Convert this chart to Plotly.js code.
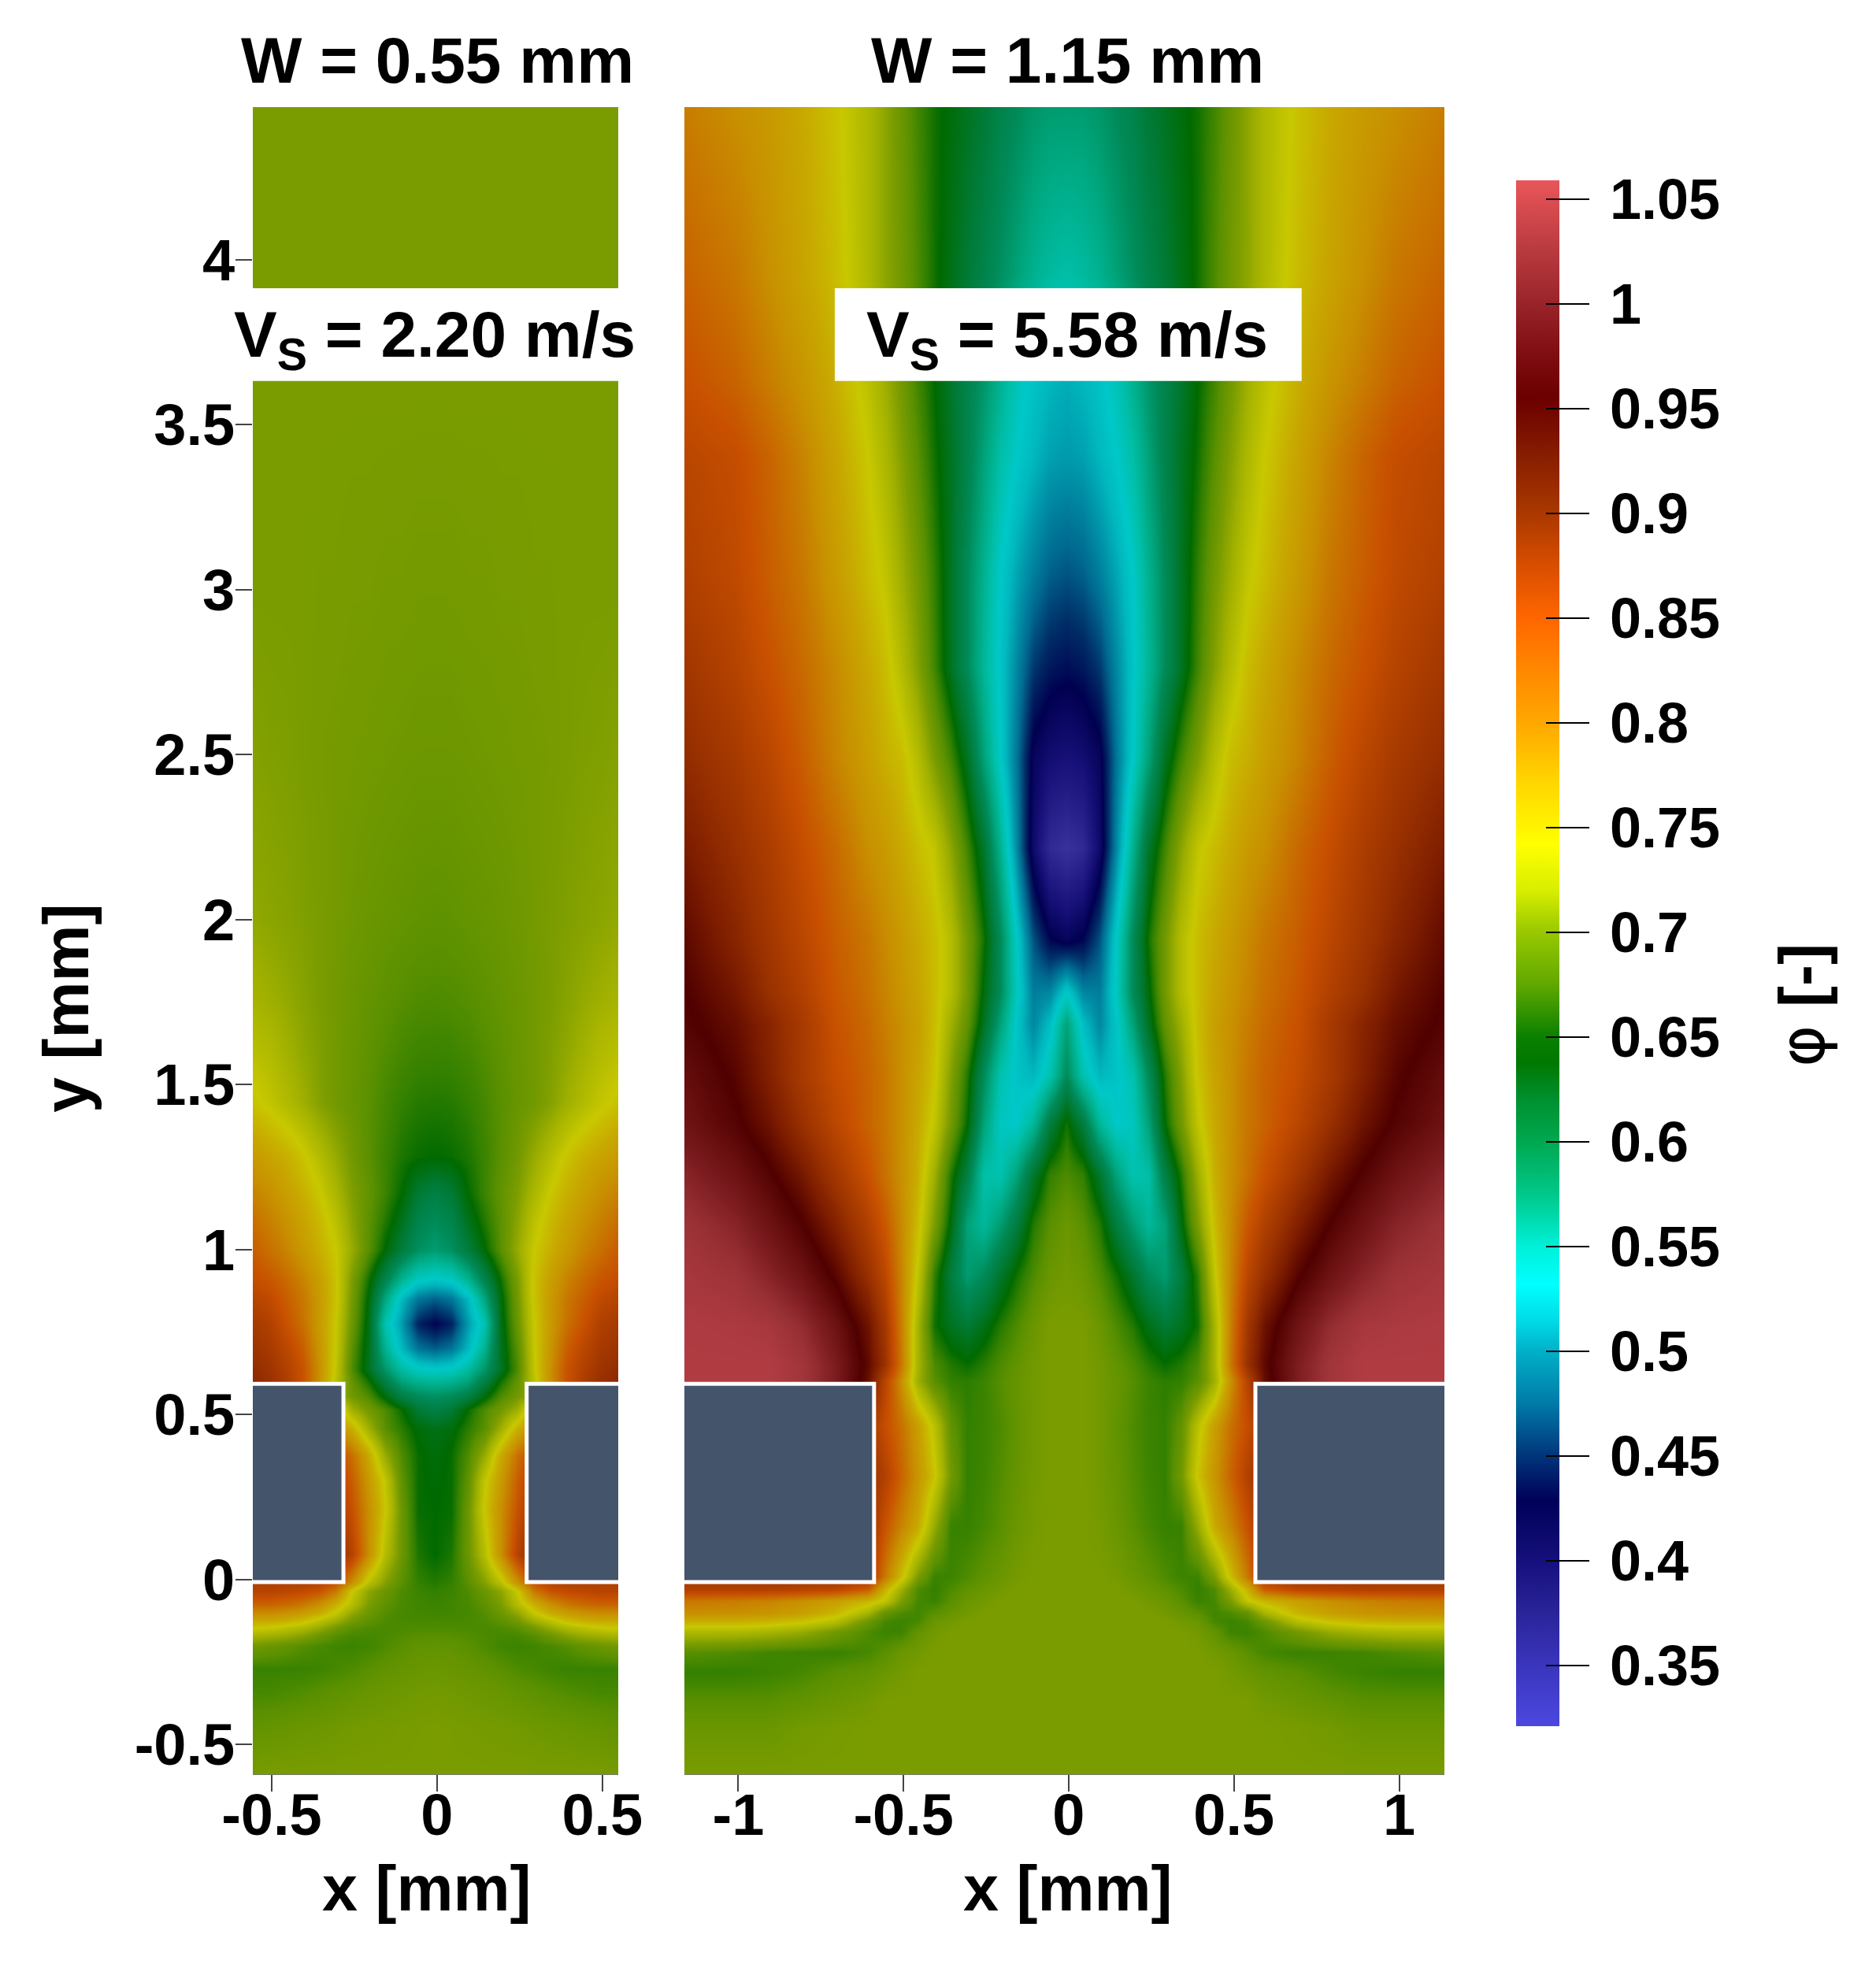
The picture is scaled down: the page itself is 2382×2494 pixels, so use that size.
<!DOCTYPE html>
<html>
<head>
    <script src="https://cdn.plot.ly/plotly-3.0.1.min.js"></script>
    <style>body { margin: 0; background: #fff; }</style>
</head>
<body>
    <div id="myDiv"></div>
    <script>
        var figW = 2382, figH = 2494;
        var fontName = '"Liberation Sans", Arial, sans-serif';

        // phi colour range of the legend
        var phiMin = 0.321, phiMax = 1.059;

        // legend bar colours
        var barLevels = [0.321, 0.35, 0.375, 0.4, 0.4286, 0.45, 0.475, 0.5, 0.515, 0.532, 0.55, 0.575, 0.6, 0.62, 0.638, 0.65, 0.675, 0.7, 0.72, 0.742, 0.77, 0.8, 0.825, 0.85, 0.875, 0.9, 0.925, 0.955, 0.975, 1.0, 1.025, 1.05, 1.059];
        var barColors = ['#4c48e0', '#3a35bc', '#2a249a', '#15107c', '#000058', '#00357a', '#007aa8', '#00b0c8', '#00dce8', '#00ffff', '#00f0d8', '#00c88a', '#00a850', '#009030', '#007800', '#0a8000', '#60a800', '#98c800', '#d8ee00', '#ffff00', '#ffd800', '#ffa800', '#ff8800', '#ff6600', '#d84e00', '#aa3800', '#8a2000', '#6b0000', '#7e0c10', '#98242a', '#b83a3e', '#dc4e52', '#e8565a'];

        // field colours, the lit surface is darker than the legend
        var fieldLevels = [0.321, 0.355, 0.4, 0.4286, 0.45, 0.475, 0.5, 0.515, 0.53, 0.55, 0.575, 0.6, 0.625, 0.65, 0.665, 0.68, 0.7, 0.72, 0.75, 0.775, 0.8, 0.825, 0.85, 0.875, 0.9, 0.925, 0.955, 0.98, 1.0, 1.025, 1.05, 1.059];
        var fieldColors = ['#4038b0', '#38309c', '#161078', '#000050', '#002c66', '#006a90', '#009aac', '#00b8be', '#00c8c8', '#00bfa8', '#00a880', '#008a58', '#007a36', '#006a00', '#338000', '#5a9000', '#7a9c00', '#a0b000', '#c8c800', '#c8a800', '#c89000', '#c87000', '#c85000', '#b04000', '#983000', '#7c1c00', '#500000', '#6a1010', '#7c1c20', '#983034', '#b03c42', '#c04448'];

        // W = 0.55 mm, half profiles (distance from the mid line)
        var leftCentre = -0.007;
        var leftDist = [0, 0.05, 0.1, 0.15, 0.2, 0.25, 0.3, 0.35, 0.4, 0.45, 0.5, 0.55];
        var leftY = [4.46, 3.6, 3.0, 2.5, 2.0, 1.75, 1.6, 1.445, 1.28, 1.17, 1.09, 1.0, 0.91, 0.85, 0.774, 0.7, 0.637, 0.6, 0.555, 0.514, 0.458, 0.376, 0.3, 0.212, 0.075, -0.007, -0.035, -0.075, -0.103, -0.125, -0.145, -0.17, -0.2, -0.27, -0.336, -0.45, -0.6];
        var leftPhi = [
            [0.70, 0.70, 0.70, 0.70, 0.70, 0.70, 0.70, 0.70, 0.70, 0.70, 0.70, 0.70],
            [0.70, 0.70, 0.70, 0.70, 0.70, 0.70, 0.70, 0.70, 0.70, 0.70, 0.70, 0.70],
            [0.696, 0.696, 0.697, 0.697, 0.698, 0.698, 0.699, 0.699, 0.70, 0.70, 0.70, 0.70],
            [0.692, 0.692, 0.693, 0.694, 0.695, 0.696, 0.697, 0.698, 0.70, 0.702, 0.703, 0.705],
            [0.683, 0.684, 0.686, 0.688, 0.69, 0.693, 0.696, 0.70, 0.703, 0.706, 0.709, 0.712],
            [0.675, 0.676, 0.678, 0.682, 0.686, 0.69, 0.695, 0.70, 0.707, 0.714, 0.72, 0.725],
            [0.668, 0.669, 0.672, 0.677, 0.683, 0.689, 0.695, 0.703, 0.712, 0.722, 0.733, 0.738],
            [0.66, 0.661, 0.665, 0.672, 0.68, 0.688, 0.695, 0.705, 0.72, 0.733, 0.745, 0.755],
            [0.65, 0.652, 0.658, 0.668, 0.68, 0.695, 0.715, 0.735, 0.755, 0.77, 0.78, 0.79],
            [0.615, 0.625, 0.65, 0.668, 0.685, 0.702, 0.728, 0.752, 0.77, 0.785, 0.80, 0.81],
            [0.60, 0.61, 0.638, 0.66, 0.682, 0.708, 0.74, 0.762, 0.78, 0.797, 0.812, 0.825],
            [0.585, 0.595, 0.62, 0.648, 0.68, 0.715, 0.75, 0.77, 0.79, 0.81, 0.825, 0.84],
            [0.528, 0.535, 0.565, 0.61, 0.655, 0.70, 0.755, 0.785, 0.81, 0.83, 0.845, 0.855],
            [0.47, 0.48, 0.515, 0.575, 0.645, 0.695, 0.755, 0.79, 0.82, 0.84, 0.86, 0.87],
            [0.43, 0.445, 0.50, 0.545, 0.64, 0.69, 0.75, 0.79, 0.825, 0.85, 0.875, 0.885],
            [0.47, 0.48, 0.515, 0.565, 0.637, 0.68, 0.748, 0.795, 0.84, 0.865, 0.885, 0.895],
            [0.53, 0.535, 0.555, 0.59, 0.635, 0.675, 0.745, 0.80, 0.85, 0.875, 0.895, 0.905],
            [0.56, 0.565, 0.58, 0.615, 0.655, 0.685, 0.74, 0.80, 0.85, 0.88, 0.90, 0.91],
            [0.595, 0.60, 0.615, 0.645, 0.675, 0.695, 0.72, 0.80, 0.80, 0.80, 0.80, 0.80],
            [0.615, 0.625, 0.652, 0.675, 0.695, 0.72, 0.78, 0.80, 0.80, 0.80, 0.80, 0.80],
            [0.64, 0.645, 0.662, 0.68, 0.72, 0.77, 0.80, 0.80, 0.80, 0.80, 0.80, 0.80],
            [0.645, 0.652, 0.675, 0.715, 0.775, 0.825, 0.86, 0.86, 0.86, 0.86, 0.86, 0.86],
            [0.648, 0.652, 0.683, 0.745, 0.79, 0.84, 0.875, 0.875, 0.875, 0.875, 0.875, 0.875],
            [0.65, 0.652, 0.69, 0.752, 0.80, 0.85, 0.89, 0.89, 0.89, 0.89, 0.89, 0.89],
            [0.65, 0.658, 0.69, 0.735, 0.80, 0.87, 0.91, 0.91, 0.91, 0.91, 0.91, 0.91],
            [0.66, 0.665, 0.68, 0.705, 0.74, 0.80, 0.85, 0.87, 0.875, 0.875, 0.875, 0.875],
            [0.665, 0.668, 0.675, 0.69, 0.71, 0.75, 0.82, 0.85, 0.86, 0.865, 0.87, 0.87],
            [0.668, 0.67, 0.673, 0.682, 0.70, 0.735, 0.77, 0.80, 0.82, 0.83, 0.835, 0.835],
            [0.67, 0.671, 0.672, 0.677, 0.69, 0.71, 0.745, 0.77, 0.785, 0.795, 0.80, 0.80],
            [0.673, 0.673, 0.673, 0.675, 0.682, 0.695, 0.72, 0.74, 0.76, 0.77, 0.775, 0.775],
            [0.675, 0.675, 0.674, 0.673, 0.675, 0.68, 0.695, 0.715, 0.73, 0.74, 0.748, 0.752],
            [0.68, 0.679, 0.677, 0.674, 0.672, 0.672, 0.678, 0.69, 0.705, 0.715, 0.72, 0.725],
            [0.685, 0.684, 0.68, 0.675, 0.67, 0.668, 0.67, 0.673, 0.678, 0.685, 0.69, 0.695],
            [0.69, 0.689, 0.687, 0.684, 0.68, 0.675, 0.672, 0.669, 0.667, 0.667, 0.667, 0.667],
            [0.695, 0.694, 0.692, 0.69, 0.688, 0.685, 0.682, 0.679, 0.676, 0.674, 0.672, 0.672],
            [0.70, 0.699, 0.698, 0.697, 0.696, 0.695, 0.693, 0.691, 0.69, 0.688, 0.687, 0.685],
            [0.70, 0.70, 0.70, 0.70, 0.70, 0.70, 0.70, 0.70, 0.70, 0.70, 0.70, 0.698]
        ];

        // W = 1.15 mm
        var rightCentre = -0.008;
        var rightDist = [0, 0.05, 0.1, 0.15, 0.2, 0.25, 0.3, 0.35, 0.4, 0.45, 0.5, 0.55, 0.6, 0.7, 0.8, 0.9, 1.0, 1.15];
        var rightY = [4.46, 3.95, 3.64, 3.4, 3.04, 2.765, 2.49, 2.217, 1.943, 1.78, 1.684, 1.53, 1.38, 1.227, 1.075, 0.923, 0.77, 0.65, 0.6, 0.466, 0.314, 0.162, 0.01, -0.03, -0.066, -0.1, -0.127, -0.158, -0.22, -0.28, -0.37, -0.45, -0.6];
        var rightPhi = [
            [0.585, 0.585, 0.59, 0.60, 0.61, 0.625, 0.635, 0.645, 0.655, 0.67, 0.69, 0.71, 0.73, 0.755, 0.775, 0.79, 0.80, 0.815],
            [0.55, 0.555, 0.565, 0.58, 0.595, 0.61, 0.625, 0.64, 0.655, 0.675, 0.695, 0.71, 0.73, 0.76, 0.78, 0.80, 0.82, 0.835],
            [0.51, 0.515, 0.525, 0.54, 0.565, 0.59, 0.61, 0.63, 0.65, 0.67, 0.695, 0.72, 0.74, 0.77, 0.795, 0.815, 0.835, 0.85],
            [0.50, 0.503, 0.515, 0.53, 0.55, 0.58, 0.61, 0.635, 0.655, 0.68, 0.705, 0.73, 0.75, 0.78, 0.81, 0.835, 0.855, 0.865],
            [0.465, 0.47, 0.485, 0.505, 0.53, 0.565, 0.60, 0.635, 0.665, 0.695, 0.72, 0.745, 0.76, 0.79, 0.82, 0.84, 0.86, 0.875],
            [0.435, 0.44, 0.455, 0.49, 0.525, 0.56, 0.60, 0.635, 0.67, 0.705, 0.735, 0.76, 0.775, 0.805, 0.83, 0.85, 0.87, 0.89],
            [0.40, 0.405, 0.42, 0.48, 0.53, 0.58, 0.635, 0.67, 0.70, 0.735, 0.76, 0.77, 0.785, 0.81, 0.84, 0.865, 0.885, 0.905],
            [0.355, 0.365, 0.41, 0.49, 0.565, 0.63, 0.67, 0.71, 0.745, 0.76, 0.775, 0.79, 0.80, 0.83, 0.855, 0.88, 0.90, 0.925],
            [0.42, 0.43, 0.465, 0.53, 0.60, 0.655, 0.695, 0.735, 0.76, 0.775, 0.79, 0.805, 0.82, 0.84, 0.865, 0.89, 0.915, 0.945],
            [0.53, 0.49, 0.485, 0.535, 0.60, 0.645, 0.695, 0.735, 0.76, 0.78, 0.795, 0.81, 0.825, 0.845, 0.875, 0.90, 0.93, 0.955],
            [0.58, 0.52, 0.49, 0.525, 0.58, 0.635, 0.685, 0.72, 0.76, 0.785, 0.80, 0.815, 0.83, 0.85, 0.885, 0.915, 0.94, 0.96],
            [0.60, 0.545, 0.515, 0.525, 0.545, 0.60, 0.66, 0.705, 0.755, 0.78, 0.80, 0.82, 0.835, 0.855, 0.885, 0.92, 0.95, 0.975],
            [0.655, 0.62, 0.56, 0.53, 0.535, 0.58, 0.65, 0.695, 0.745, 0.775, 0.80, 0.82, 0.835, 0.865, 0.90, 0.935, 0.96, 0.985],
            [0.675, 0.665, 0.63, 0.58, 0.545, 0.55, 0.615, 0.66, 0.72, 0.77, 0.80, 0.825, 0.85, 0.89, 0.93, 0.96, 0.985, 1.01],
            [0.69, 0.68, 0.66, 0.62, 0.585, 0.558, 0.58, 0.645, 0.70, 0.76, 0.805, 0.845, 0.875, 0.92, 0.957, 0.985, 1.01, 1.03],
            [0.695, 0.69, 0.675, 0.655, 0.63, 0.60, 0.585, 0.62, 0.665, 0.745, 0.81, 0.865, 0.90, 0.95, 0.985, 1.01, 1.03, 1.04],
            [0.70, 0.70, 0.69, 0.675, 0.66, 0.64, 0.625, 0.635, 0.655, 0.725, 0.815, 0.89, 0.935, 0.985, 1.02, 1.04, 1.045, 1.048],
            [0.70, 0.70, 0.695, 0.685, 0.675, 0.662, 0.652, 0.66, 0.675, 0.725, 0.82, 0.90, 0.945, 1.0, 1.035, 1.05, 1.05, 1.05],
            [0.70, 0.70, 0.695, 0.688, 0.678, 0.668, 0.663, 0.665, 0.68, 0.72, 0.80, 0.87, 0.94, 1.0, 1.035, 1.05, 1.05, 1.05],
            [0.70, 0.70, 0.695, 0.685, 0.675, 0.668, 0.665, 0.685, 0.74, 0.785, 0.825, 0.855, 0.89, 0.90, 0.90, 0.90, 0.90, 0.90],
            [0.70, 0.70, 0.695, 0.687, 0.677, 0.669, 0.665, 0.695, 0.755, 0.795, 0.835, 0.875, 0.90, 0.90, 0.90, 0.90, 0.90, 0.90],
            [0.70, 0.70, 0.697, 0.69, 0.68, 0.672, 0.666, 0.667, 0.715, 0.775, 0.81, 0.85, 0.90, 0.90, 0.90, 0.90, 0.90, 0.90],
            [0.70, 0.70, 0.70, 0.697, 0.69, 0.683, 0.675, 0.668, 0.668, 0.70, 0.76, 0.82, 0.89, 0.89, 0.89, 0.89, 0.885, 0.885],
            [0.70, 0.70, 0.70, 0.70, 0.695, 0.69, 0.683, 0.675, 0.665, 0.675, 0.72, 0.77, 0.84, 0.865, 0.87, 0.875, 0.875, 0.875],
            [0.70, 0.70, 0.70, 0.70, 0.70, 0.695, 0.69, 0.68, 0.667, 0.672, 0.70, 0.745, 0.765, 0.785, 0.80, 0.81, 0.815, 0.82],
            [0.70, 0.70, 0.70, 0.70, 0.70, 0.70, 0.695, 0.688, 0.68, 0.67, 0.675, 0.685, 0.725, 0.765, 0.785, 0.795, 0.80, 0.80],
            [0.70, 0.70, 0.70, 0.70, 0.70, 0.70, 0.70, 0.695, 0.69, 0.672, 0.668, 0.672, 0.69, 0.735, 0.755, 0.765, 0.77, 0.77],
            [0.70, 0.70, 0.70, 0.70, 0.70, 0.70, 0.70, 0.70, 0.695, 0.685, 0.668, 0.668, 0.675, 0.695, 0.715, 0.725, 0.73, 0.73],
            [0.70, 0.70, 0.70, 0.70, 0.70, 0.70, 0.70, 0.70, 0.70, 0.695, 0.69, 0.68, 0.672, 0.667, 0.668, 0.67, 0.675, 0.68],
            [0.70, 0.70, 0.70, 0.70, 0.70, 0.70, 0.70, 0.70, 0.70, 0.70, 0.695, 0.69, 0.685, 0.68, 0.672, 0.668, 0.665, 0.665],
            [0.70, 0.70, 0.70, 0.70, 0.70, 0.70, 0.70, 0.70, 0.70, 0.70, 0.70, 0.70, 0.695, 0.69, 0.685, 0.68, 0.68, 0.68],
            [0.70, 0.70, 0.70, 0.70, 0.70, 0.70, 0.70, 0.70, 0.70, 0.70, 0.70, 0.70, 0.70, 0.698, 0.695, 0.69, 0.69, 0.69],
            [0.70, 0.70, 0.70, 0.70, 0.70, 0.70, 0.70, 0.70, 0.70, 0.70, 0.70, 0.70, 0.70, 0.70, 0.70, 0.70, 0.70, 0.70]
        ];

        // tick labels
        var leftXTicks = [-0.5, 0, 0.5];
        var leftXLabels = ['-0.5', '0', '0.5'];
        var rightXTicks = [-1, -0.5, 0, 0.5, 1];
        var rightXLabels = ['-1', '-0.5', '0', '0.5', '1'];
        var yTicks = [-0.5, 0, 0.5, 1, 1.5, 2, 2.5, 3, 3.5, 4];
        var yLabels = ['-0.5', '0', '0.5', '1', '1.5', '2', '2.5', '3', '3.5', '4'];
        var barTicks = [0.35, 0.4, 0.45, 0.5, 0.55, 0.6, 0.65, 0.7, 0.75, 0.8, 0.85, 0.9, 0.95, 1, 1.05];
        var barLabels = ['0.35', '0.4', '0.45', '0.5', '0.55', '0.6', '0.65', '0.7', '0.75', '0.8', '0.85', '0.9', '0.95', '1', '1.05'];

        function makeScale(levels, colors) {
            return levels.map(function(v, i) {
                return [(v - phiMin) / (phiMax - phiMin), colors[i]];
            });
        }

        // the field is symmetric, so each half profile is mirrored about the mid line
        function fullX(dist, centre) {
            var neg = dist.slice(1).reverse().map(function(d) { return centre - d; });
            return neg.concat(dist.map(function(d) { return centre + d; }));
        }
        function fullZ(rows) {
            return rows.map(function(r) {
                return r.slice(1).reverse().concat(r);
            }).reverse();
        }

        function fieldTrace(xs, ys, zs, xa, ya) {
            return {
                type: 'heatmap', x: xs, y: ys.slice().reverse(), z: zs, xaxis: xa, yaxis: ya,
                zsmooth: 'best', zmin: phiMin, zmax: phiMax, zauto: false,
                colorscale: makeScale(fieldLevels, fieldColors), showscale: false,
                hoverinfo: 'skip'
            };
        }

        // two stacked colorbars: one draws the tick part over the bar, the other the part beside it.
        // their own traces sit outside the axis ranges, only the bars show
        function barTrace(cb) {
            var base = {
                x: 1925 / figW, xanchor: 'left', xpad: 0, ypad: 0,
                y: 1 - 1210.5 / figH, yanchor: 'middle',
                thickness: 55, thicknessmode: 'pixels', len: 1963, lenmode: 'pixels',
                outlinewidth: 0, tickmode: 'array', tickvals: barTicks,
                tickwidth: 2, tickcolor: '#000'
            };
            return {
                type: 'heatmap', x: [-9, -8], y: [-9, -8], z: [[0.7, 0.7], [0.7, 0.7]],
                xaxis: 'x', yaxis: 'y',
                zmin: phiMin, zmax: phiMax, zauto: false, hoverinfo: 'skip',
                colorscale: makeScale(barLevels, barColors), showscale: true,
                colorbar: Object.assign(base, cb)
            };
        }

        var data = [
            fieldTrace(fullX(leftDist, leftCentre), leftY, fullZ(leftPhi), 'x', 'y'),
            fieldTrace(fullX(rightDist, rightCentre), rightY, fullZ(rightPhi), 'x2', 'y2'),
            barTrace({
                ticks: 'outside', ticklen: 38,
                ticktext: barLabels.map(function(s) { return '\u2006' + s; }),
                tickfont: { family: fontName, size: 72, color: '#000', weight: 700 }
            }),
            barTrace({ ticks: 'inside', ticklen: 17, showticklabels: false })
        ];

        var tickFont = { family: fontName, size: 74, color: '#000', weight: 700 };
        var labelFont = { family: fontName, size: 82, color: '#000', weight: 700 };
        var titleFont = { family: fontName, size: 81, color: '#000', weight: 700 };
        var yRange = [-0.59, 4.462];

        function xAxis(left, right, range, vals, text) {
            return {
                domain: [left / figW, right / figW], range: range, tickmode: 'array',
                tickvals: vals, ticktext: text, ticks: 'outside', ticklen: 21, tickwidth: 2,
                tickcolor: '#444', tickfont: tickFont, ticklabelstandoff: -34, showgrid: false, zeroline: false,
                showline: true, linecolor: '#777', linewidth: 1
            };
        }

        function wall(xa, ya, x0, x1) {
            return {
                type: 'rect', xref: xa, yref: ya, x0: x0, x1: x1, y0: -0.008, y1: 0.593,
                fillcolor: '#44546a', line: { color: '#fff', width: 5 }, layer: 'above'
            };
        }

        function note(text, px, py, font, angle) {
            return {
                text: text, xref: 'paper', yref: 'paper', x: px / figW, y: 1 - py / figH,
                xanchor: 'center', yanchor: 'middle', showarrow: false, font: font,
                textangle: angle || 0
            };
        }

        var layout = {
            width: figW, height: figH,
            margin: { l: 0, r: 0, t: 0, b: 0, autoexpand: false },
            paper_bgcolor: '#fff', plot_bgcolor: '#fff', showlegend: false,
            xaxis: xAxis(321, 785, [-0.557, 0.548], leftXTicks, leftXLabels),
            xaxis2: xAxis(869, 1834, [-1.163, 1.137], rightXTicks, rightXLabels),
            yaxis: {
                domain: [1 - 2253 / figH, 1 - 136 / figH], range: yRange, tickmode: 'array',
                tickvals: yTicks, ticktext: yLabels, ticks: 'outside', ticklen: 21, tickwidth: 2,
                tickcolor: '#444', tickfont: tickFont, ticklabelstandoff: -14, showgrid: false, zeroline: false
            },
            yaxis2: {
                domain: [1 - 2253 / figH, 1 - 136 / figH], range: yRange, anchor: 'x2',
                showticklabels: false, ticks: '', showgrid: false, zeroline: false
            },
            shapes: [
                wall('x', 'y', -0.7, -0.283), wall('x', 'y', 0.271, 0.7),
                wall('x2', 'y2', -1.4, -0.589), wall('x2', 'y2', 0.565, 1.4),
                // white strips behind the velocity labels
                { type: 'rect', xref: 'x domain', yref: 'y', x0: 0, x1: 1, y0: 3.632, y1: 3.913, fillcolor: '#fff', line: { width: 0 }, layer: 'above' },
                { type: 'rect', xref: 'x2', yref: 'y2', x0: -0.708, x1: 0.705, y0: 3.632, y1: 3.913, fillcolor: '#fff', line: { width: 0 }, layer: 'above' }
            ],
            annotations: [
                note('W = 0.55 mm', 555, 76, labelFont),
                note('W = 1.15 mm', 1355, 76, labelFont),
                note('V<sub>S</sub> = 2.20 m/s', 552, 430, labelFont),
                note('V<sub>S</sub> = 5.58 m/s', 1355, 430, labelFont),
                note('x [mm]', 542, 2398, titleFont),
                note('x [mm]', 1356, 2398, titleFont),
                note('y [mm]', 84, 1280, titleFont, -90),
                note('<span style="font-family:\'DejaVu Sans\';font-weight:normal">\u03c6</span> [-]', 2288, 1277, titleFont, -90)
            ]
        };

        var config = { displayModeBar: false };

        Plotly.newPlot('myDiv', data, layout, config);
    </script>
</body>
</html>
